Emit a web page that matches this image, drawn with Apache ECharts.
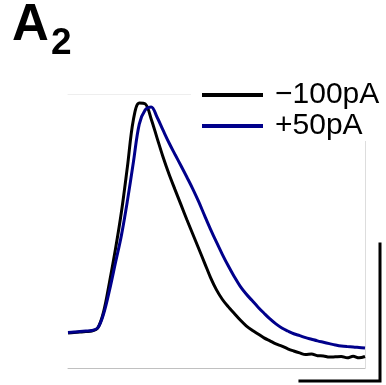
<!DOCTYPE html>
<html>
<head>
<meta charset="utf-8">
<script src="https://cdn.jsdelivr.net/npm/echarts@6/dist/echarts.min.js"></script>
<style>html,body{margin:0;padding:0;background:#fff;}#c{width:386px;height:385px;}</style>
</head>
<body>
<div id="c"></div>
<script>
// time (arbitrary units) and normalised responses
var time = [0,2,4,6,8,10,12,14,16,18,20,22,24,26,28,30,32,34,36,38,40,42,44,46,48,50,52,54,56,58,60,62,64,66,68,70,72,74,76,78,80,82,84,86,88,90,92,94,96,98,100];
var neg100 = [12.8,13.0,13.1,13.3,13.5,14.6,20.6,31.5,43.5,57.0,73.4,90.5,96.7,96.4,90.9,83.9,77.0,70.8,65.2,59.7,54.2,48.9,43.6,38.3,33.0,28.5,25.0,22.3,19.9,17.5,15.4,13.8,12.4,11.0,9.9,8.8,8.0,7.0,6.2,5.5,4.9,5.1,4.5,4.4,4.0,4.1,4.2,3.7,4.3,3.7,4.2];
var pos50 = [13.0,13.1,13.3,13.5,13.7,14.6,19.8,28.5,38.5,48.5,61.0,75.0,89.0,94.2,95.3,91.5,86.8,82.2,78.0,73.9,69.7,65.4,60.7,55.6,50.6,45.9,41.4,37.2,33.3,29.8,27.0,24.6,22.2,20.0,17.9,16.1,14.6,13.5,12.5,11.8,11.1,10.5,9.9,9.4,8.9,8.4,8.0,7.8,7.7,7.5,7.3];
var seriesNames = ['\u2212100pA', '+50pA'];
var seriesColors = ['#000000', '#00008b'];
// scale bar corner path [x, y] in the same data units
var scaleBarX = [78.1, 105.05, 105.05];
var scaleBarY = [-4.74, -4.74, 45.26];

function pairs(xs, ys){ var o=[]; for(var i=0;i<xs.length;i++){o.push([xs[i], ys[i]]);} return o; }

var chart = echarts.init(document.getElementById('c'), null, {renderer:'canvas'});
function hid(o){ o.axisTick={show:false}; o.axisLabel={show:false}; o.splitLine={show:false}; return o; }
chart.setOption({
  animation:false,
  backgroundColor:'#ffffff',
  grid:[
    {left:68, right:21, top:94, bottom:17, containLabel:false},
    {left:68, right:0, top:94, bottom:0, containLabel:false}
  ],
  xAxis:[
    hid({type:'value', gridIndex:0, min:0, max:100, position:'bottom', axisLine:{show:true, onZero:false, lineStyle:{color:'#c0c0c0', width:1}}}),
    hid({type:'value', gridIndex:0, min:0, max:100, position:'top', axisLine:{show:true, onZero:false, lineStyle:{color:'#eeeeee', width:1}}}),
    hid({type:'value', gridIndex:1, min:0, max:107.07, axisLine:{show:false}})
  ],
  yAxis:[
    hid({type:'value', gridIndex:0, min:0, max:100, position:'right', axisLine:{show:true, onZero:false, lineStyle:{color:'#dddddd', width:1}}}),
    hid({type:'value', gridIndex:1, min:-6.204, max:100, axisLine:{show:false}})
  ],
  legend:{
    orient:'vertical', left:191, top:80, padding:[0,4,0,11], itemGap:1,
    itemWidth:61, itemHeight:4, icon:'rect', backgroundColor:'#ffffff',
    textStyle:{fontSize:30, fontFamily:'Liberation Sans, Arial, sans-serif', color:'#000', padding:[0,0,0,7], lineHeight:30},
    data:seriesNames
  },
  graphic:[
    {type:'text', left:12, top:0, style:{text:'A', font:'bold 51px "Liberation Sans", Arial, sans-serif', fill:'#000'}},
    {type:'text', left:51, top:25, style:{text:'2', font:'bold 37px "Liberation Sans", Arial, sans-serif', fill:'#000'}}
  ],
  series:[
    {name:seriesNames[0], type:'line', xAxisIndex:0, yAxisIndex:0, data:pairs(time, neg100), symbol:'none', smooth:0.35, lineStyle:{color:seriesColors[0], width:3}, itemStyle:{color:seriesColors[0]}, z:3},
    {name:seriesNames[1], type:'line', xAxisIndex:0, yAxisIndex:0, data:pairs(time, pos50), symbol:'none', smooth:0.35, lineStyle:{color:seriesColors[1], width:3}, itemStyle:{color:seriesColors[1]}, z:4},
    {name:'scalebar', type:'line', xAxisIndex:2, yAxisIndex:1, data:pairs(scaleBarX, scaleBarY), symbol:'none', clip:false, silent:true, lineStyle:{color:'#000', width:3, cap:'square', join:'miter'}, z:5}
  ]
});
</script>
</body>
</html>
